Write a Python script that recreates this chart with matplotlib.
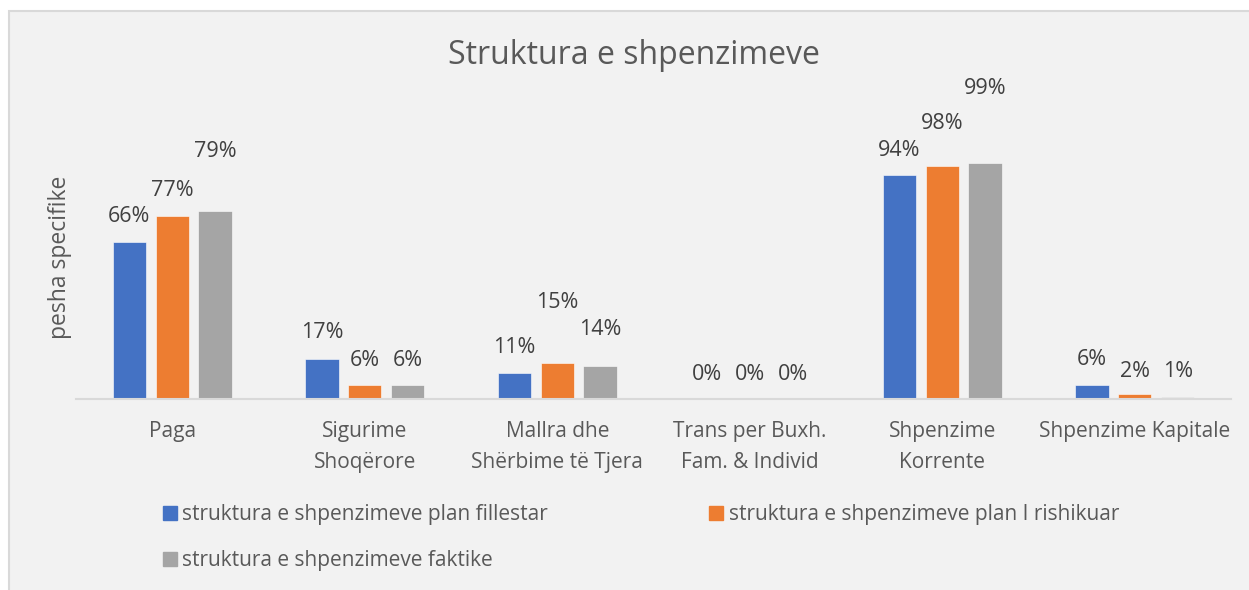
import matplotlib
matplotlib.use("Agg")
import matplotlib.pyplot as plt
from matplotlib.patches import Rectangle, Patch

plt.rcParams['font.family'] = ['Open Sans', 'DejaVu Sans']

categories = ["Paga", "Sigurime\nShoqërore", "Mallra dhe\nShërbime të Tjera",
              "Trans per Buxh.\nFam. & Individ", "Shpenzime\nKorrente", "Shpenzime Kapitale"]
plan_fillestar = [66, 17, 11, 0, 94, 6]
plan_rishikuar = [77, 6, 15, 0, 98, 2]
faktike = [79, 6, 14, 0, 99, 1]
series_names = ["struktura e shpenzimeve plan fillestar",
                "struktura e shpenzimeve plan I rishikuar",
                "struktura e shpenzimeve faktike"]
colors = ["#4472C4", "#ED7D31", "#A5A5A5"]

# label lift above the bar top, in pixels (some labels were dragged higher)
label_lift = [
    [25, 26, 25, 25, 25, 25],
    [25, 24, 61, 25, 42, 23],
    [59, 24, 36, 25, 75, 25],
]

W, H = 1249, 590
fig = plt.figure(figsize=(W / 100, H / 100), dpi=100)
fig.patch.set_facecolor("white")
fig.patches.append(Rectangle((9 / W, -0.02), 1.1, (H - 11) / H + 0.02,
                             transform=fig.transFigure, facecolor="#F2F2F2",
                             edgecolor="#D9D9D9", linewidth=1.5, zorder=-10))

ax = fig.add_axes([76 / W, (H - 399) / H, 1155 / W, 238 / H])
ax.set_facecolor("none")

x = list(range(len(categories)))
step = 0.223
width = 0.174
for i, (vals, col) in enumerate(zip([plan_fillestar, plan_rishikuar, faktike], colors)):
    pos = [xi + (i - 1) * step for xi in x]
    bars = ax.bar(pos, vals, width=width, color=col, edgecolor="white",
                  linewidth=0.4, zorder=2)
    for b, v, lift in zip(bars, vals, label_lift[i]):
        ax.annotate(f"{v}%", (b.get_x() + b.get_width() / 2, v),
                    xytext=(0, lift), textcoords="offset pixels",
                    ha="center", va="center", fontsize=15.5, color="#404040")

ax.set_xlim(-0.5, len(categories) - 0.5)
ax.set_ylim(0, 100)
ax.set_yticks([])
ax.set_xticks(x)
ax.set_xticklabels(categories, fontsize=15, color="#595959", linespacing=1.6)
ax.tick_params(axis="x", length=0, pad=16)
for s in ["top", "right", "left"]:
    ax.spines[s].set_visible(False)
ax.spines["bottom"].set_color("#D9D9D9")
ax.spines["bottom"].set_linewidth(1.5)

fig.text(634 / W, 1 - 56 / H, "Struktura e shpenzimeve", ha="center", va="center",
         fontsize=23, color="#595959")
fig.text(60 / W, 1 - 257 / H, "pesha specifike", rotation=90, ha="center",
         va="center", fontsize=16.5, color="#595959")

handles = [Patch(color=c) for c in colors]
order = [0, 2, 1]
leg = fig.legend([handles[k] for k in order], [series_names[k] for k in order],
                 ncol=2, loc="upper left", bbox_to_anchor=(163 / W, 1 - 504 / H),
                 frameon=False, fontsize=15, handlelength=0.67, handleheight=0.67,
                 handletextpad=0.25, columnspacing=7.75, labelspacing=1.2,
                 borderaxespad=0, borderpad=0)
for t in leg.get_texts():
    t.set_color("#595959")

fig.savefig("out.png", dpi=100, facecolor=fig.get_facecolor())
